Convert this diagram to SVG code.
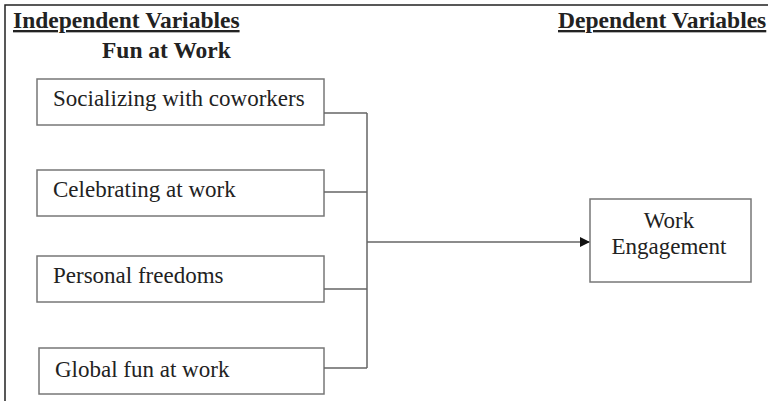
<svg xmlns="http://www.w3.org/2000/svg" width="768" height="401" viewBox="0 0 768 401">
<style>
.box{fill:#fff;stroke:#777;stroke-width:1.5}
.lbl{font-family:'Liberation Serif','Times New Roman','DejaVu Serif',serif;font-size:23px;fill:#222}
.hd{font-family:'Liberation Serif','Times New Roman','DejaVu Serif',serif;font-size:23.5px;font-weight:bold;fill:#222}
.conn{stroke:#666;stroke-width:1.5;fill:none}
</style>
<defs>
<marker id="ah" markerWidth="10" markerHeight="10" refX="9" refY="5" orient="auto" markerUnits="userSpaceOnUse">
<path d="M0,0 L10,5 L0,10 Z" fill="#111"/>
</marker>
</defs>
<rect width="768" height="401" fill="#fff"/>
<path d="M5,401 V5 H768" stroke="#222" stroke-width="1.5" fill="none"/>
<g id="headers">
<text class="hd" x="13" y="28" text-decoration="underline">Independent Variables </text>
<text class="hd" x="102" y="58">Fun at Work</text>
<text class="hd" x="558" y="28" text-decoration="underline">Dependent Variables</text>
</g>
<g id="n1"><rect class="box" x="37" y="79" width="287" height="46"/><text class="lbl" x="53" y="106">Socializing with coworkers</text></g>
<g id="n2"><rect class="box" x="37" y="170" width="287" height="46"/><text class="lbl" x="53" y="197">Celebrating at work</text></g>
<g id="n3"><rect class="box" x="37" y="256" width="287" height="46"/><text class="lbl" x="53" y="283">Personal freedoms</text></g>
<g id="n4"><rect class="box" x="39" y="348" width="285" height="46"/><text class="lbl" x="55" y="377">Global fun at work</text></g>
<g id="n5"><rect class="box" x="590" y="199" width="161" height="83"/><text class="lbl" x="669" y="228" text-anchor="middle">Work</text><text class="lbl" x="669" y="254" text-anchor="middle">Engagement</text></g>
<g id="connectors">
<path class="conn" d="M324,113 H367 M324,192 H367 M324,289 H367 M324,368 H367 M367,113 V368"/>
<path class="conn" d="M367,242 H589" marker-end="url(#ah)"/>
</g>
</svg>
